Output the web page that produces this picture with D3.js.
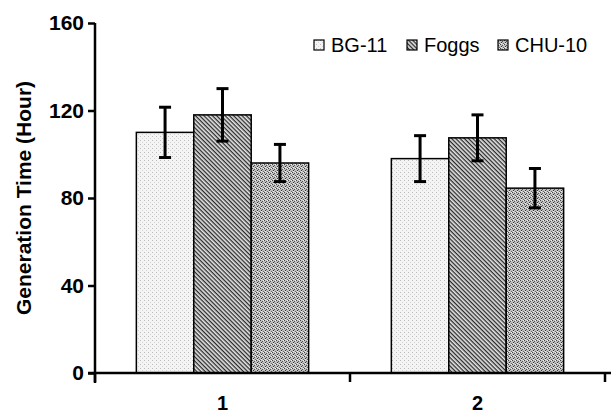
<!DOCTYPE html>
<meta charset="utf-8">
<script src="https://d3js.org/d3.v7.min.js"></script>
<style>
  body { margin: 0; background: #fff; }
  text { font-family: "Liberation Sans", Arial, sans-serif; }
</style>
<svg id="chart" width="611" height="413"></svg>
<script>

// data
var groups = ["1", "2"];
var series = ["BG-11", "Foggs", "CHU-10"];
var means = {
  "BG-11": [110, 98],
  "Foggs": [118, 107.5],
  "CHU-10": [96, 84.5]
};
var errors = {
  "BG-11": [11.5, 10.5],
  "Foggs": [12, 10.5],
  "CHU-10": [8.5, 9]
};
var yTicks = [0, 40, 80, 120, 160];

var svg = d3.select("#chart");
var defs = svg.append("defs");

// fill patterns for the three media
var p1 = defs.append("pattern").attr("id", "pat0")
  .attr("patternUnits", "userSpaceOnUse").attr("width", 4).attr("height", 4);
p1.append("rect").attr("width", 4).attr("height", 4).attr("fill", "#f4f4f4");
p1.append("rect").attr("x", 0).attr("y", 0).attr("width", 1).attr("height", 1).attr("fill", "#bcbcbc");
p1.append("rect").attr("x", 2).attr("y", 2).attr("width", 1).attr("height", 1).attr("fill", "#d4d4d4");

var p2 = defs.append("pattern").attr("id", "pat1")
  .attr("patternUnits", "userSpaceOnUse").attr("width", 3).attr("height", 3)
  .attr("patternTransform", "rotate(45)");
p2.append("rect").attr("width", 3).attr("height", 3).attr("fill", "#e4e4e4");
p2.append("rect").attr("width", 3).attr("height", 1.3).attr("fill", "#2a2a2a");

var p3 = defs.append("pattern").attr("id", "pat2")
  .attr("patternUnits", "userSpaceOnUse").attr("width", 4).attr("height", 4);
p3.append("rect").attr("width", 4).attr("height", 4).attr("fill", "#c0c0c0");
p3.append("rect").attr("x", 0).attr("y", 0).attr("width", 1).attr("height", 1).attr("fill", "#444");
p3.append("rect").attr("x", 2).attr("y", 1).attr("width", 1).attr("height", 1).attr("fill", "#555");
p3.append("rect").attr("x", 1).attr("y", 2).attr("width", 1).attr("height", 1).attr("fill", "#333");
p3.append("rect").attr("x", 3).attr("y", 3).attr("width", 1).attr("height", 1).attr("fill", "#666");
p3.append("rect").attr("x", 3).attr("y", 0).attr("width", 1).attr("height", 1).attr("fill", "#f2f2f2");
p3.append("rect").attr("x", 1).attr("y", 3).attr("width", 1).attr("height", 1).attr("fill", "#eee");

var color = d3.scaleOrdinal().domain(series).range(["url(#pat0)", "url(#pat1)", "url(#pat2)"]);

// scales
var mLeft = 95, mRight = 605, mTop = 23, mBottom = 373;
var x0 = d3.scaleBand().domain(groups).range([mLeft, mRight]);
var x1 = d3.scaleBand().domain(series).range([0, x0.bandwidth()]).paddingOuter(0.72);
var y = d3.scaleLinear().domain([0, 160]).range([mBottom, mTop]);

// bars
var g = svg.append("g");
series.forEach(function (s) {
  groups.forEach(function (grp, i) {
    var bx = x0(grp) + x1(s);
    g.append("rect")
      .attr("x", bx)
      .attr("y", y(means[s][i]))
      .attr("width", x1.bandwidth())
      .attr("height", mBottom - y(means[s][i]))
      .attr("fill", color(s))
      .attr("stroke", "#000")
      .attr("stroke-width", 1.5);
  });
});

// error bars
series.forEach(function (s) {
  groups.forEach(function (grp, i) {
    var cx = x0(grp) + x1(s) + x1.bandwidth() / 2;
    var hi = y(means[s][i] + errors[s][i]);
    var lo = y(means[s][i] - errors[s][i]);
    g.append("line").attr("x1", cx).attr("x2", cx).attr("y1", hi).attr("y2", lo)
      .attr("stroke", "#000").attr("stroke-width", 3);
    [hi, lo].forEach(function (yy) {
      g.append("line").attr("x1", cx - 6).attr("x2", cx + 6).attr("y1", yy).attr("y2", yy)
        .attr("stroke", "#000").attr("stroke-width", 3);
    });
  });
});

// y axis
var yAxis = svg.append("g")
  .attr("transform", "translate(" + mLeft + ",0)")
  .call(d3.axisLeft(y).tickValues(yTicks).tickSize(7).tickPadding(4));
yAxis.select(".domain").attr("d", "M0," + mTop + "V" + (mBottom + 10)).attr("stroke-width", 2.5);
yAxis.selectAll(".tick line").attr("stroke-width", 2.5);
yAxis.selectAll("text")
  .attr("font-size", 21).attr("font-weight", "bold").attr("fill", "#000")
  .style("font-family", "'Liberation Sans', Arial, sans-serif");

// x axis
var xAxis = svg.append("g")
  .attr("transform", "translate(0," + mBottom + ")")
  .call(d3.axisBottom(x0).tickSize(0).tickPadding(23));
xAxis.select(".domain").attr("d", "M" + (mLeft - 7) + ",0H611").attr("stroke-width", 2.5);
xAxis.selectAll("text")
  .attr("font-size", 20).attr("font-weight", "bold").attr("fill", "#000")
  .style("font-family", "'Liberation Sans', Arial, sans-serif");
// category divider ticks
[mLeft, x0("2"), mRight].forEach(function (tx) {
  xAxis.append("line").attr("x1", tx).attr("x2", tx).attr("y1", 0).attr("y2", 9)
    .attr("stroke", "#000").attr("stroke-width", 2.5);
});

// y label
svg.append("text")
  .attr("transform", "translate(31," + ((mTop + mBottom) / 2) + ") rotate(-90)")
  .attr("text-anchor", "middle")
  .attr("font-size", 21).attr("font-weight", "bold")
  .text("Generation Time (Hour)");

// legend
var legX = [314, 407, 498];
var leg = svg.append("g");
series.forEach(function (s, i) {
  leg.append("rect")
    .attr("x", legX[i]).attr("y", 40).attr("width", 10).attr("height", 10)
    .attr("fill", color(s)).attr("stroke", "#000").attr("stroke-width", 1.2);
  leg.append("text")
    .attr("x", legX[i] + 17).attr("y", 52)
    .attr("font-size", 20)
    .text(s);
});

</script>
